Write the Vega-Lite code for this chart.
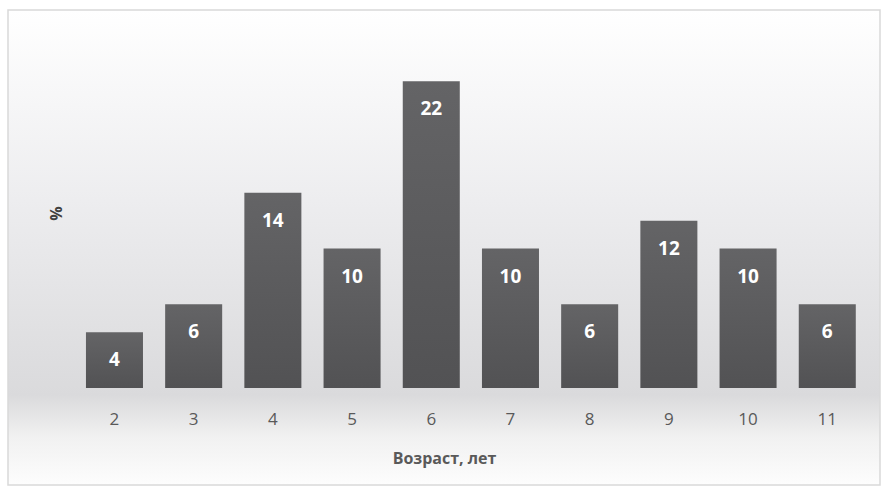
{
  "$schema": "https://vega.github.io/schema/vega-lite/v6.json",
  "width": 872,
  "height": 475,
  "autosize": {"type": "none"},
  "padding": {"left": 8, "top": 10, "right": 4, "bottom": 11},
  "background": "#ffffff",
  "config": {
    "font": "Open Sans",
    "view": {
      "stroke": "#d9d9d9",
      "strokeWidth": 1.5,
      "fill": {
        "gradient": "linear",
        "x1": 0, "y1": 0, "x2": 0, "y2": 1,
        "stops": [
          {"offset": 0, "color": "#ffffff"},
          {"offset": 0.4, "color": "#ededef"},
          {"offset": 0.81, "color": "#dadadc"},
          {"offset": 0.9, "color": "#f1f1f1"},
          {"offset": 1, "color": "#fdfdfd"}
        ]
      }
    }
  },
  "data": {
    "values": [
      {"age": "2", "pct": 4},
      {"age": "3", "pct": 6},
      {"age": "4", "pct": 14},
      {"age": "5", "pct": 10},
      {"age": "6", "pct": 22},
      {"age": "7", "pct": 10},
      {"age": "8", "pct": 6},
      {"age": "9", "pct": 12},
      {"age": "10", "pct": 10},
      {"age": "11", "pct": 6}
    ]
  },
  "encoding": {
    "x": {
      "field": "age",
      "type": "ordinal",
      "sort": null,
      "scale": {"paddingInner": 0.28, "paddingOuter": 0.645, "align": 0.763},
      "axis": {
        "orient": "bottom",
        "offset": -97,
        "domain": false,
        "ticks": false,
        "labelAngle": 0,
        "labelPadding": 23,
        "labelFontSize": 17,
        "labelColor": "#595959",
        "title": "Возраст, лет",
        "titleFontSize": 16,
        "titleFontWeight": "bold",
        "titleColor": "#595959",
        "titlePadding": 23
      }
    },
    "y": {
      "field": "pct",
      "type": "quantitative",
      "scale": {"domain": [-6.95, 27.1], "nice": false, "zero": false},
      "axis": {
        "orient": "left",
        "offset": -56,
        "domain": false,
        "ticks": false,
        "labels": false,
        "grid": false,
        "title": "%",
        "titlePadding": 0,
        "titleY": 203,
        "titleFontSize": 16,
        "titleFontWeight": "bold",
        "titleColor": "#404040"
      }
    }
  },
  "layer": [
    {
      "mark": {
        "type": "bar",
        "color": {
          "gradient": "linear",
          "x1": 0, "y1": 0, "x2": 0, "y2": 1,
          "stops": [
            {"offset": 0, "color": "#646466"},
            {"offset": 1, "color": "#525254"}
          ]
        }
      }
    },
    {
      "mark": {
        "type": "text",
        "dy": 28,
        "baseline": "middle",
        "color": "#ffffff",
        "fontSize": 19,
        "fontWeight": "bold"
      },
      "encoding": {"text": {"field": "pct", "type": "quantitative"}}
    }
  ]
}
